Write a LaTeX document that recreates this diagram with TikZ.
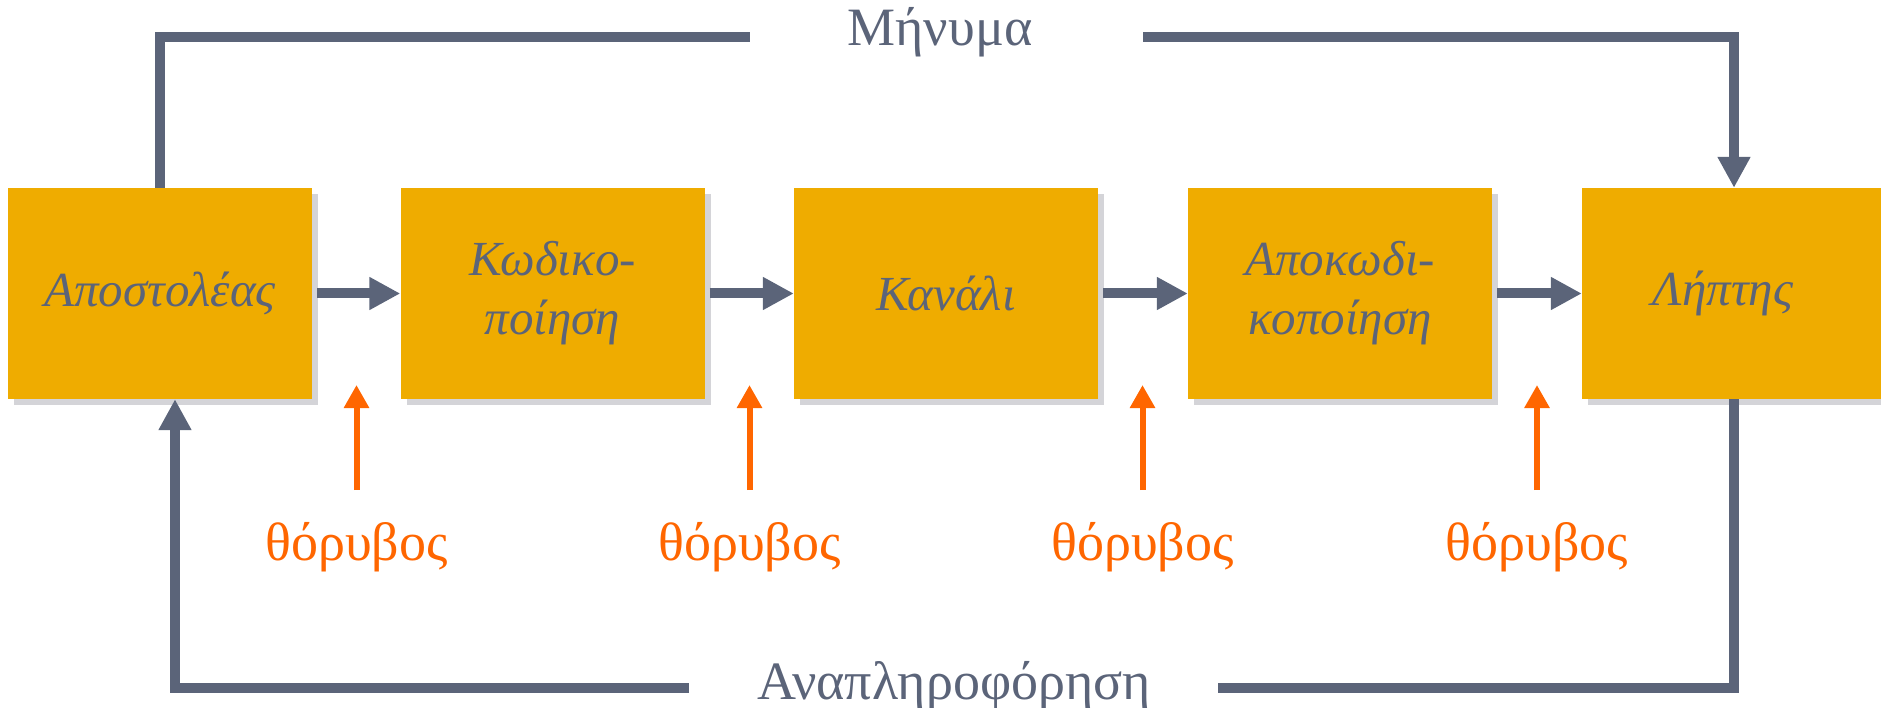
\documentclass[tikz,border=0pt]{standalone}
\usepackage{fontspec}
\setmainfont{Liberation Serif}
\usetikzlibrary{arrows.meta,shadows}
\definecolor{boxorange}{HTML}{EFAC00}
\definecolor{textgray}{HTML}{5B6479}
\definecolor{noiseorange}{HTML}{FF6600}
\definecolor{shadowgray}{HTML}{D4D4D8}
\begin{document}
\begin{tikzpicture}[x=1pt,y=-1pt,
  blk/.style={fill=boxorange, minimum width=304pt, minimum height=211pt, inner sep=0pt,
    align=center, text=textgray, font=\fontsize{49}{59}\selectfont\itshape,
    drop shadow={shadow xshift=6pt, shadow yshift=-6pt, fill=shadowgray, opacity=1}},
  flow/.style={draw=textgray, line width=10pt, -{Triangle[length=31pt,width=31pt]}},
  link/.style={draw=textgray, line width=10pt},
  noise/.style={draw=noiseorange, line width=6pt, -{Triangle[length=23pt,width=24pt]}},
  noiselbl/.style={text=noiseorange, font=\fontsize{54}{60}\selectfont, inner sep=0pt, anchor=base},
  biglbl/.style={text=textgray, font=\fontsize{54}{60}\selectfont, inner sep=0pt, anchor=base}]
\useasboundingbox (0,0) rectangle (1881,708);
% blocks
\node[blk] (b1) at (160,293.5) {Αποστολέας};
\node[blk] (b2) at (552.5,293.5) {Κωδικο-\\ποίηση};
\node[blk] (b3) at (946,293.5) {Κανάλι};
\node[blk] (b4) at (1340,293.5) {Αποκωδι-\\κοποίηση};
\node[blk] (b5) at (1734,293.5) {Λήπτης\kern22pt};
% forward arrows
\draw[flow] ([xshift=5pt]b1.east) -- (b2.west);
\draw[flow] ([xshift=5pt]b2.east) -- (b3.west);
\draw[flow] ([xshift=5pt]b3.east) -- (b4.west);
\draw[flow] ([xshift=5pt]b4.east) -- (b5.west);
% message path
\coordinate (mL) at (750,37);
\coordinate (mR) at (1143,37);
\node[biglbl] (msg) at (940,46) {Μήνυμα};
\draw[link] (b1.north) |- (mL);
\draw[flow] (mR) -| (b5.north);
% feedback path
\coordinate (fR) at (1218,688);
\coordinate (fL) at (689,688);
\node[biglbl] (fb) at (954,699) {Αναπληροφόρηση};
\draw[link] (b5.south) |- (fR);
\draw[flow] (fL) -| ([xshift=15pt]b1.south);
% noise
\foreach \i/\x in {1/356.5, 2/749.5, 3/1142.5, 4/1537}{
  \coordinate (s\i) at (\x,490);
  \coordinate (t\i) at (\x,385);
  \node[noiselbl] (n\i) at (\x,560) {θόρυβος};
  \draw[noise] (s\i) -- (t\i);
}
\end{tikzpicture}
\end{document}
